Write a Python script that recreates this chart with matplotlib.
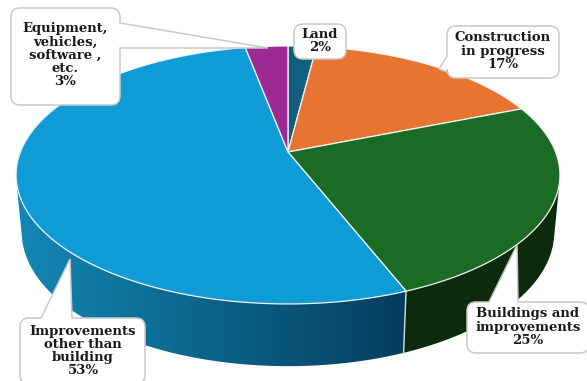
import numpy as np
import matplotlib
matplotlib.use('Agg')
import matplotlib.pyplot as plt
from matplotlib.colors import LinearSegmentedColormap
from matplotlib.patches import PathPatch, Polygon
from matplotlib.path import Path

names = ['Land', 'Construction\nin progress', 'Buildings and\nimprovements',
         'Improvements\nother than\nbuilding', 'Equipment,\nvehicles,\nsoftware ,\netc.']
values = [2, 17, 25, 53, 3]
top_colors = ['#135e80', '#e87431', '#1b6b25', '#0f9bd6', '#9d2a92']
wall_left = ['#0c3d54', '#8f4520', '#0c2b0d', '#1389b6', '#5e1a58']
wall_right = ['#0c3d54', '#8f4520', '#0c2b0d', '#043c5c', '#5e1a58']

# callout boxes: x0, y0, x1, y1, pointer tip, pointer side, pointer base on that side
boxes = [
    (294, 24, 346, 59, None, None, None),
    (447, 26, 559, 78, (439, 69), 'left', (56, 72)),
    (467, 302, 589, 353, (517, 245), 'top', (489, 518)),
    (20, 318, 145, 384, (70, 259), 'top', (41, 72)),
    (11, 8, 120, 105, (268, 48), 'right', (23, 48)),
]
text_pos = [(320, 41), (503, 51), (528, 327), (83, 351), (65, 55)]

W, H = 587, 381
SEGS = 4


def project(theta, cx, cy, ax, by, k=0.178):
    # tilted circle seen in perspective, theta runs clockwise from 12 o'clock
    x = np.sin(theta)
    y = -np.cos(theta)
    w = 1 - k * y
    return cx + ax * x / w, cy + by * y / w


def top_rim(theta):
    return project(theta, 288, 152, 267.6, 124.9)


def bottom_rim(theta):
    return project(theta, 288, 208, 262, 130)


def hull(points):
    # monotone chain, the visible wall of a wedge is the hull of its two rims
    pts = sorted(map(tuple, points))

    def half(seq):
        out = []
        for p in seq:
            while len(out) > 1 and ((out[-1][0] - out[-2][0]) * (p[1] - out[-2][1])
                                    - (out[-1][1] - out[-2][1]) * (p[0] - out[-2][0])) <= 0:
                out.pop()
            out.append(p)
        return out[:-1]

    return half(pts) + half(pts[::-1])


def callout(x0, y0, x1, y1, tip, side, base, r=9):
    verts = [(x0 + r, y0)]
    codes = [Path.MOVETO]

    def line(p):
        verts.append(p)
        codes.append(Path.LINETO)

    def corner(c, p):
        verts.extend([c, p])
        codes.extend([Path.CURVE3, Path.CURVE3])

    if side == 'top':
        line((base[0], y0))
        line(tip)
        line((base[1], y0))
    line((x1 - r, y0))
    corner((x1, y0), (x1, y0 + r))
    if side == 'right':
        line((x1, base[0]))
        line(tip)
        line((x1, base[1]))
    line((x1, y1 - r))
    corner((x1, y1), (x1 - r, y1))
    line((x0 + r, y1))
    corner((x0, y1), (x0, y1 - r))
    if side == 'left':
        line((x0, base[1]))
        line(tip)
        line((x0, base[0]))
    line((x0, y0 + r))
    corner((x0, y0), (x0 + r, y0))
    return Path(verts, codes)


fig = plt.figure(figsize=(W / 100, H / 100), dpi=100)
ax = fig.add_axes([0, 0, 1, 1])

edges = np.cumsum([0] + values) / sum(values) * 2 * np.pi

# side walls first, the top disc covers whatever faces away
for i in range(len(values)):
    th = np.linspace(edges[i], edges[i + 1], 1 + int(values[i] * SEGS))
    tx, ty = top_rim(th)
    bx, by = bottom_rim(th)
    rim_pts = np.vstack([np.column_stack([tx, ty]), np.column_stack([bx, by])])
    outline = Polygon(hull(rim_pts), closed=True, facecolor='none', edgecolor='none')
    ax.add_patch(outline)
    cmap = LinearSegmentedColormap.from_list('wall', [wall_left[i], wall_right[i]])
    ramp = np.linspace(0, 1, 256).reshape(1, -1)
    img = ax.imshow(ramp, cmap=cmap, extent=[tx.min() - 8, tx.max() + 8, H, 0], aspect='auto',
                    interpolation='bilinear', zorder=2)
    img.set_clip_path(outline)
    ax.plot([tx[0], bx[0]], [ty[0], by[0]], color='#d8dde0', lw=1, zorder=3)

# top face
for i in range(len(values)):
    th = np.linspace(edges[i], edges[i + 1], 1 + int(values[i] * SEGS))
    tx, ty = top_rim(th)
    pts = np.column_stack([np.r_[288, tx], np.r_[152, ty]])
    ax.add_patch(Polygon(pts, closed=True, facecolor=top_colors[i], edgecolor='#f2f5f6',
                         lw=0.9, joinstyle='round', zorder=4))

# labels in white callouts
for i in range(len(values)):
    x0, y0, x1, y1, tip, side, base = boxes[i]
    ax.add_patch(PathPatch(callout(x0, y0, x1, y1, tip, side, base), facecolor='white',
                           edgecolor='#c9c9c9', lw=1.1, zorder=5))
    ax.text(text_pos[i][0], text_pos[i][1], f'{names[i]}\n{values[i]}%', ha='center', va='center',
            family='DejaVu Serif', weight='bold', fontsize=9.5, color='#1a1a1a',
            linespacing=1.02, zorder=6)

ax.set_xlim(0, W)
ax.set_ylim(H, 0)
ax.axis('off')

fig.savefig('out.png', dpi=100)
